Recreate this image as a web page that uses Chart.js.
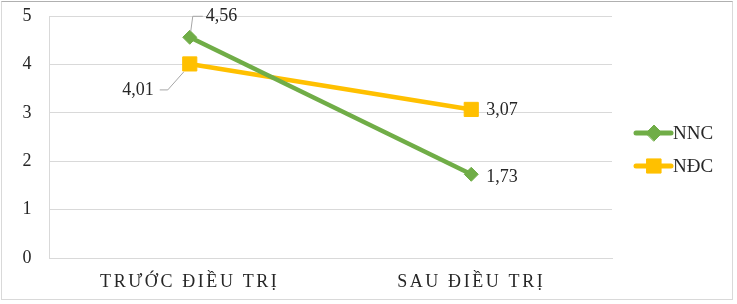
<!DOCTYPE html>
<html>
<head>
<meta charset="utf-8">
<script src="https://cdn.jsdelivr.net/npm/chart.js@4/dist/chart.umd.min.js"></script>
<style>
  html, body { margin: 0; padding: 0; background: #fff; }
  #wrap { position: relative; width: 737px; height: 304px; }
  #frame { position: absolute; left: 1px; top: 1px; width: 730px; height: 297px;
           border: 1px solid #d9d9d9; border-top-color: #b0b0b0; pointer-events: none; }
  canvas { position: absolute; left: 0; top: 0; }
</style>
</head>
<body>
<div id="wrap">
  <canvas id="c" width="737" height="304"></canvas>
  <div id="frame"></div>
</div>
<script>
const categories = ['TRƯỚC ĐIỀU TRỊ', 'SAU ĐIỀU TRỊ'];
const seriesNames = ['NNC', 'NĐC'];
const nncValues = [4.56, 1.73];
const ndcValues = [4.01, 3.07];
const yTicks = [0, 1, 2, 3, 4, 5];

const GREEN = '#70ad47';
const GOLD = '#ffc000';
const SERIF = '"Liberation Serif", "Times New Roman", serif';
const TEXT = '#262626';

function fmt(v) { return v.toFixed(2).replace('.', ','); }

const labelPlacement = [
  [ {dx: 16, dy: -21, align: 'left', leader: 'up'}, {dx: 15, dy: 3, align: 'left'} ],
  [ {dx: -36, dy: 26, align: 'right', leader: 'down'}, {dx: 15, dy: 1, align: 'left'} ]
];

const labelsPlugin = {
  id: 'labels',
  beforeDraw(chart) { chart.ctx.letterSpacing = '2.6px'; },
  beforeDatasetsDraw(chart) { chart.ctx.letterSpacing = '0px'; },
  afterDatasetsDraw(chart) {
    const ctx = chart.ctx;
    ctx.save();
    ctx.letterSpacing = '0px';
    ctx.font = '18px ' + SERIF;
    ctx.fillStyle = TEXT;
    ctx.textBaseline = 'middle';
    chart.data.datasets.forEach((ds, di) => {
      const meta = chart.getDatasetMeta(di);
      meta.data.forEach((pt, i) => {
        const p = labelPlacement[di][i];
        const tx = pt.x + p.dx, ty = pt.y + p.dy;
        ctx.textAlign = p.align;
        ctx.fillText(fmt(ds.data[i]), tx, ty);
        if (p.leader) {
          ctx.strokeStyle = '#a6a6a6';
          ctx.lineWidth = 1;
          ctx.beginPath();
          if (p.leader === 'up') {
            ctx.moveTo(pt.x + 1, pt.y - 6);
            ctx.lineTo(pt.x + 3, ty);
            ctx.lineTo(tx - 3, ty);
          } else {
            ctx.moveTo(pt.x - 6, pt.y + 8);
            ctx.lineTo(tx + 14, ty);
            ctx.lineTo(tx + 6, ty);
          }
          ctx.stroke();
        }
      });
    });
    const lx = 636, items = [{y: 133, c: GREEN, s: 'rectRot', r: 8}, {y: 166, c: GOLD, s: 'rect', r: 10}];
    items.forEach((it, k) => {
      ctx.strokeStyle = it.c;
      ctx.lineWidth = 5;
      ctx.lineCap = 'round';
      ctx.beginPath();
      ctx.moveTo(lx, it.y);
      ctx.lineTo(lx + 35, it.y);
      ctx.stroke();
      ctx.fillStyle = it.c;
      ctx.lineWidth = 1;
      Chart.helpers.drawPoint(ctx, {pointStyle: it.s, radius: it.r, borderWidth: 1, rotation: 0}, lx + 18, it.y);
      ctx.fillStyle = TEXT;
      ctx.textAlign = 'left';
      ctx.font = '19px ' + SERIF;
      ctx.fillText(seriesNames[k], lx + 37, it.y + 1);
    });
    ctx.restore();
  }
};

new Chart(document.getElementById('c'), {
  type: 'line',
  data: {
    labels: categories,
    datasets: [
      { label: seriesNames[0], data: nncValues, borderColor: GREEN, backgroundColor: GREEN,
        borderWidth: 4.5, pointStyle: 'rectRot', pointRadius: 7, pointBorderWidth: 1,
        pointBorderColor: GREEN, pointBackgroundColor: GREEN, tension: 0 },
      { label: seriesNames[1], data: ndcValues, borderColor: GOLD, backgroundColor: GOLD,
        borderWidth: 4.5, pointStyle: 'rect', pointRadius: 10, pointBorderWidth: 1,
        pointBorderColor: GOLD, pointBackgroundColor: GOLD, tension: 0 }
    ]
  },
  options: {
    responsive: false,
    animation: false,
    layout: { padding: { top: 16, right: 125, bottom: 0, left: 0 } },
    plugins: { legend: { display: false }, tooltip: { enabled: false } },
    scales: {
      x: {
        offset: true,
        grid: { display: false, drawTicks: false },
        border: { display: true, color: '#d9d9d9', width: 1 },
        ticks: { color: TEXT, font: { family: SERIF, size: 18 }, padding: 13, maxRotation: 0 },
        afterFit(s) { s.height = 46; s.paddingLeft = 0; s.paddingRight = 0; }
      },
      y: {
        min: 0, max: 5,
        afterBuildTicks(s) { s.ticks = yTicks.map(v => ({ value: v })); },
        grid: { color: '#d9d9d9', drawTicks: false },
        border: { display: true, color: '#d9d9d9', width: 1 },
        ticks: { color: TEXT, font: { family: SERIF, size: 18 }, padding: 15 },
        afterFit(s) { s.width = 49; s.paddingTop = 0; s.paddingBottom = 0; }
      }
    }
  },
  plugins: [labelsPlugin]
});
</script>
</body>
</html>
